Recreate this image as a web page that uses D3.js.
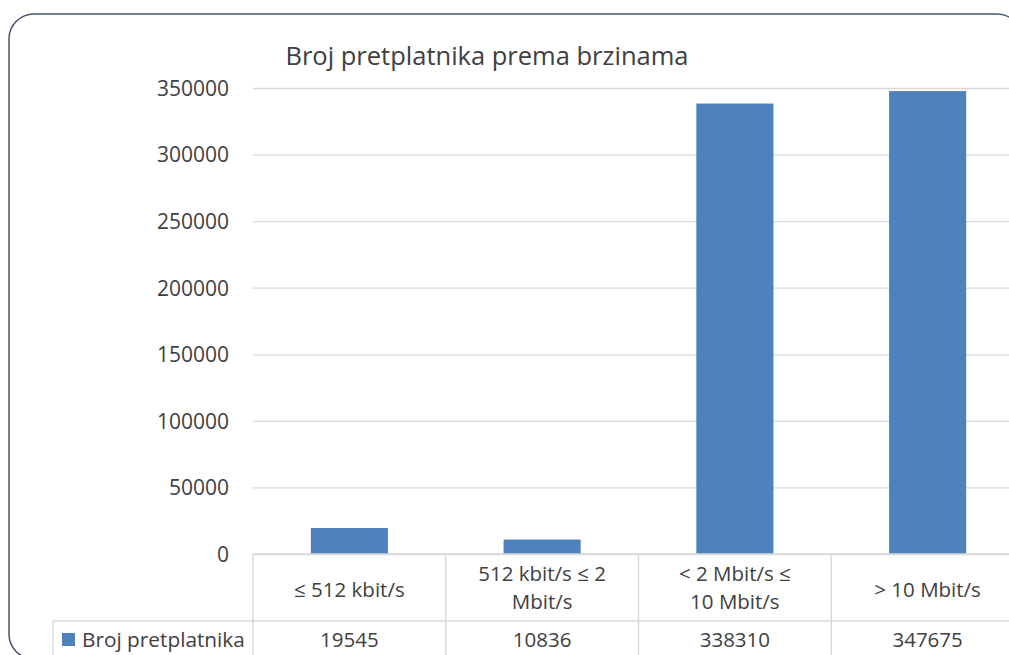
<!DOCTYPE html>
<html><head><meta charset="utf-8">
<script src="https://cdn.jsdelivr.net/npm/d3@7"></script>
<style>
html,body{margin:0;padding:0;background:#fff;overflow:hidden;}
text{font-family:"Open Sans",sans-serif;fill:#404040;}
</style></head>
<body>
<svg id="chart" width="1009" height="655"></svg>
<script>
const title = "Broj pretplatnika prema brzinama";
const seriesName = "Broj pretplatnika";
const categories = ["≤ 512 kbit/s", "512 kbit/s ≤ 2 Mbit/s", "< 2 Mbit/s ≤ 10 Mbit/s", "> 10 Mbit/s"];
const categoryLines = [["≤ 512 kbit/s"], ["512 kbit/s ≤ 2", "Mbit/s"], ["< 2 Mbit/s ≤", "10 Mbit/s"], ["> 10 Mbit/s"]];
const values = [19545, 10836, 338310, 347675];
const yTicks = [0, 50000, 100000, 150000, 200000, 250000, 300000, 350000];

const svg = d3.select("#chart");
const W = 1009, H = 655;
const plotLeft = 253, plotRight = 1024, plotTop = 88, plotBottom = 554;
const rowSplit = 621, tableLeft = 53;
const gridColor = "#d9d9d9";

// container border
svg.append("rect").attr("x", 9).attr("y", 14).attr("width", 1013).attr("height", 645)
  .attr("rx", 25).attr("ry", 25).attr("fill", "#fff").attr("stroke", "#44546a").attr("stroke-width", 1.5);

const x = d3.scaleBand().domain(categories).range([plotLeft, plotRight]).paddingInner(0.6).paddingOuter(0.3);
const xCol = d3.scaleBand().domain(categories).range([plotLeft, plotRight]).padding(0);
const y = d3.scaleLinear().domain([0, 350000]).range([plotBottom, plotTop]);

// gridlines + y labels via axis
const yAxis = d3.axisLeft(y).tickValues(yTicks).tickSize(-(plotRight - plotLeft)).tickPadding(24).tickFormat(d3.format("d"));
const gy = svg.append("g").attr("transform", `translate(${plotLeft},0)`).call(yAxis);
gy.select(".domain").remove();
gy.selectAll(".tick line").attr("stroke", gridColor).attr("stroke-width", 1.3);
gy.selectAll(".tick text").style("font-size", "21px").attr("fill", "#404040").attr("dy", "0.35em");

// title
svg.append("text").attr("x", 487).attr("y", 65).attr("text-anchor", "middle")
  .style("font-size", "25.5px").text(title);

// bars
svg.append("g").selectAll("rect").data(values).join("rect")
  .attr("x", (d, i) => x(categories[i]))
  .attr("y", d => y(d))
  .attr("width", x.bandwidth())
  .attr("height", d => y(0) - y(d))
  .attr("fill", "#4f81bd");

// data table
const tg = svg.append("g");
const line = (x1, y1, x2, y2) => tg.append("line").attr("x1", x1).attr("y1", y1).attr("x2", x2).attr("y2", y2)
  .attr("stroke", gridColor).attr("stroke-width", 1.5);
line(plotLeft, plotBottom, plotRight, plotBottom);
line(tableLeft, rowSplit, plotRight, rowSplit);
line(tableLeft, rowSplit, tableLeft, H + 5);
categories.forEach(c => line(xCol(c), plotBottom, xCol(c), H + 5));

// category labels
categoryLines.forEach((lines, i) => {
  const cx = xCol(categories[i]) + xCol.bandwidth() / 2;
  const t = tg.append("text").attr("text-anchor", "middle").style("font-size", "20.5px");
  if (lines.length === 1) {
    t.append("tspan").attr("x", cx).attr("y", 597).text(lines[0]);
  } else {
    t.append("tspan").attr("x", cx).attr("y", 581).text(lines[0]);
    t.append("tspan").attr("x", cx).attr("y", 609).text(lines[1]);
  }
});
// values row
values.forEach((v, i) => {
  const cx = xCol(categories[i]) + xCol.bandwidth() / 2;
  tg.append("text").attr("x", cx).attr("y", 647).attr("text-anchor", "middle").style("font-size", "20.5px").text(d3.format("d")(v));
});
// legend key
tg.append("rect").attr("x", 62).attr("y", 633).attr("width", 13).attr("height", 13).attr("fill", "#4f81bd");
tg.append("text").attr("x", 82).attr("y", 647).style("font-size", "20.8px").text(seriesName);
</script>
</body></html>
